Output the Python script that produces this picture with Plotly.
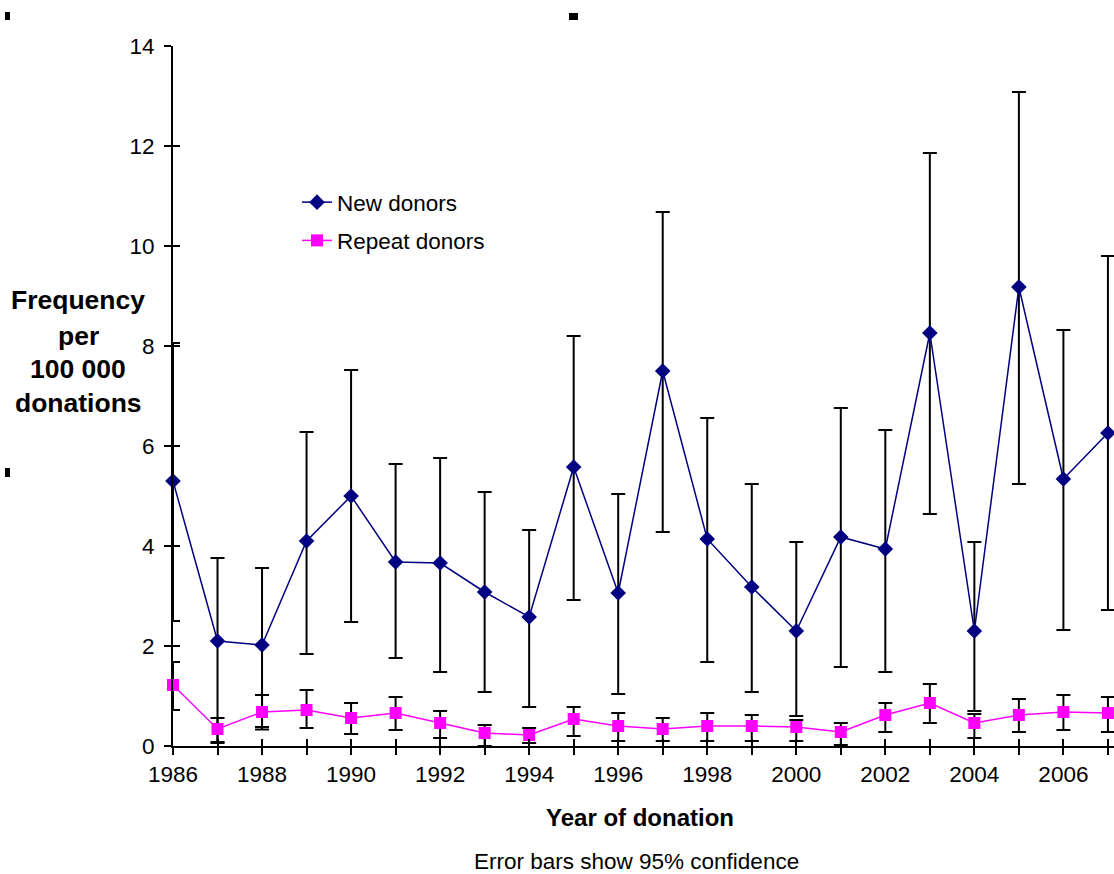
import plotly.graph_objects as go

years = list(range(1986, 2008))

new_donors = [5.3, 2.1, 2.02, 4.1, 5.0, 3.68, 3.66, 3.08, 2.58, 5.58, 3.06,
              7.5, 4.14, 3.18, 2.3, 4.18, 3.94, 8.26, 2.3, 9.18, 5.34, 6.26]
new_upper = [8.06, 3.76, 3.56, 6.28, 7.52, 5.64, 5.76, 5.08, 4.32, 8.2, 5.04,
             10.68, 6.56, 5.24, 4.08, 6.76, 6.32, 11.86, 4.08, 13.08, 8.32, 9.8]
new_lower = [2.5, 0.08, 0.33, 1.84, 2.48, 1.76, 1.48, 1.08, 0.78, 2.92, 1.04,
             4.28, 1.68, 1.08, 0.6, 1.58, 1.48, 4.64, 0.7, 5.24, 2.32, 2.72]

repeat_donors = [1.22, 0.34, 0.68, 0.72, 0.56, 0.66, 0.46, 0.26, 0.22, 0.54, 0.4,
                 0.34, 0.4, 0.4, 0.38, 0.28, 0.62, 0.86, 0.46, 0.62, 0.68, 0.66]
repeat_upper = [1.68, 0.56, 1.02, 1.12, 0.86, 0.98, 0.7, 0.42, 0.36, 0.78, 0.66,
                0.56, 0.66, 0.62, 0.52, 0.46, 0.86, 1.24, 0.64, 0.94, 1.02, 0.98]
repeat_lower = [0.72, 0.06, 0.38, 0.36, 0.24, 0.32, 0.16, 0.0, 0.06, 0.2, 0.1,
                0.1, 0.1, 0.1, 0.1, 0.02, 0.28, 0.46, 0.16, 0.28, 0.32, 0.28]

y_ticks = [0, 2, 4, 6, 8, 10, 12, 14]
x_ticktext = [str(y) if (y - 1986) % 2 == 0 else "" for y in years]

FONT = "Liberation Sans, Arial, sans-serif"
TXT = 22.5
W, H = 1114, 874
L, R, T, B = 173, 0, 46, 128
PW, PH = W - L - R, H - T - B


def px(x):
    return (x - L) / PW


def py(y):
    return (H - B - y) / PH


fig = go.Figure()

fig.add_trace(go.Scatter(
    x=years, y=new_donors, name="New donors", mode="lines+markers",
    line=dict(color="#000080", width=1.5),
    marker=dict(symbol="diamond", size=12, color="#000080"),
    error_y=dict(type="data", symmetric=False,
                 array=[u - v for u, v in zip(new_upper, new_donors)],
                 arrayminus=[v - l for v, l in zip(new_donors, new_lower)],
                 color="#000000", thickness=2, width=7),
    cliponaxis=False, legendgroup="a",
))
fig.add_trace(go.Scatter(
    x=years, y=repeat_donors, name="Repeat donors", mode="lines+markers",
    line=dict(color="#FF00FF", width=1.5),
    marker=dict(symbol="square", size=12, color="#FF00FF"),
    error_y=dict(type="data", symmetric=False,
                 array=[u - v for u, v in zip(repeat_upper, repeat_donors)],
                 arrayminus=[v - l for v, l in zip(repeat_donors, repeat_lower)],
                 color="#000000", thickness=2, width=7),
    cliponaxis=False, legendgroup="b",
))
# invisible trace to activate overlay axes (for crossing ticks)
fig.add_trace(go.Scatter(x=years, y=repeat_donors, mode="none", xaxis="x2", yaxis="y2",
                         showlegend=False, hoverinfo="skip"))

xrange = [1986, 1986 + PW / 44.52]

fig.update_layout(
    width=W, height=H,
    margin=dict(l=L, r=R, t=T, b=B, pad=0),
    paper_bgcolor="white", plot_bgcolor="white",
    font=dict(family=FONT, size=TXT, color="#000000"),
    showlegend=True,
    legend=dict(x=px(297), y=py(181), xanchor="left", yanchor="top",
                bgcolor="rgba(0,0,0,0)", borderwidth=0,
                font=dict(family=FONT, size=TXT, color="#000000"),
                traceorder="grouped", tracegroupgap=6),
    xaxis=dict(range=xrange, tickmode="array", tickvals=years, ticktext=x_ticktext,
               ticks="outside", ticklen=7, tickwidth=2, tickcolor="#000000",
               showline=True, linecolor="#000000", linewidth=2,
               showgrid=False, zeroline=False, tickangle=0,
               tickfont=dict(family=FONT, size=TXT)),
    yaxis=dict(range=[0, 14], tickmode="array", tickvals=y_ticks,
               ticks="outside", ticklen=7, tickwidth=2, tickcolor="#000000",
               showline=True, linecolor="#000000", linewidth=2,
               showgrid=False, zeroline=False, ticklabelstandoff=5,
               tickfont=dict(family=FONT, size=TXT)),
    xaxis2=dict(range=xrange, overlaying="x", tickmode="array", tickvals=years,
                ticks="inside", ticklen=7, tickwidth=2, tickcolor="#000000",
                showticklabels=False, showline=False, showgrid=False, zeroline=False),
    yaxis2=dict(range=[0, 14], overlaying="y", tickmode="array", tickvals=y_ticks,
                ticks="inside", ticklen=7, tickwidth=2, tickcolor="#000000",
                showticklabels=False, showline=False, showgrid=False, zeroline=False),
)

annotations = []
for txt, yy in [("Frequency", 300), ("per", 336), ("100 000", 369), ("donations", 403)]:
    annotations.append(dict(text="<b>%s</b>" % txt, x=px(78), y=py(yy), xref="paper", yref="paper",
                            xanchor="center", yanchor="middle", showarrow=False,
                            font=dict(family=FONT, size=26.5, color="#000000")))
annotations.append(dict(text="<b>Year of donation</b>", x=px(640), y=py(817), xref="paper", yref="paper",
                        xanchor="center", yanchor="middle", showarrow=False,
                        font=dict(family=FONT, size=24, color="#000000")))
annotations.append(dict(text="Error bars show 95% confidence", x=px(636), y=py(861), xref="paper", yref="paper",
                        xanchor="center", yanchor="middle", showarrow=False,
                        font=dict(family=FONT, size=TXT, color="#000000")))
fig.update_layout(annotations=annotations)

shapes = []
for (x0, y0, x1, y1) in [(5, 12, 10, 20), (569, 13, 578, 20), (5, 468, 10, 477)]:
    shapes.append(dict(type="rect", xref="paper", yref="paper",
                       x0=px(x0), x1=px(x1), y0=py(y0), y1=py(y1),
                       fillcolor="#000000", line=dict(width=0)))
fig.update_layout(shapes=shapes)

fig.write_html("out.html")
